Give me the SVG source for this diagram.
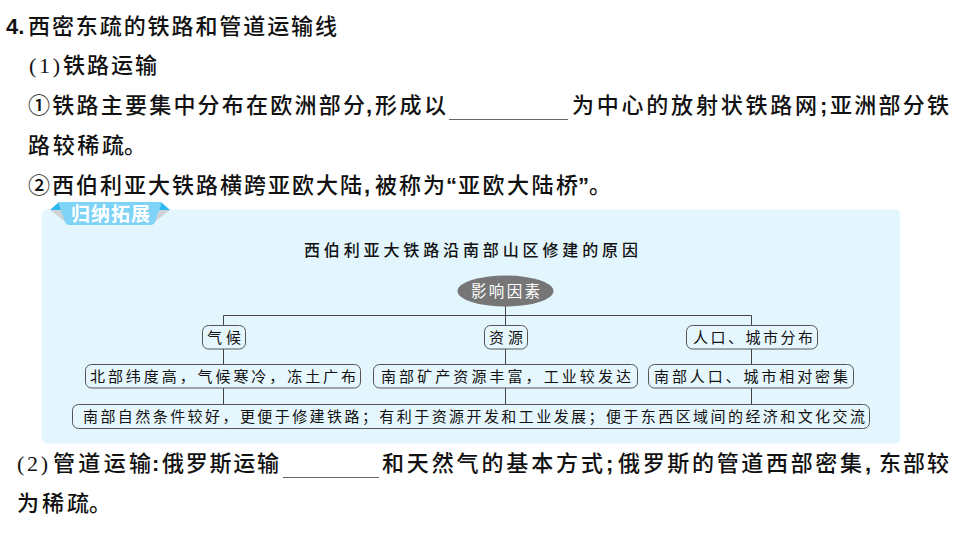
<svg xmlns="http://www.w3.org/2000/svg" width="960" height="540" viewBox="0 0 960 540">
<style>
text{font-family:"Noto Sans CJK SC","Noto Sans",sans-serif;fill:#111}
.b{font-size:22px;font-weight:500}
.p{font-family:"Liberation Sans",sans-serif;font-weight:700}
.r{font-family:"Liberation Serif",serif;font-weight:400}
.n{font-size:15px}
.box{fill:#e6f6fd;stroke:#555;stroke-width:1}
.c{fill:none;stroke:#444;stroke-width:1}
.u{stroke:#666;stroke-width:1}
</style>
<rect width="960" height="540" fill="#fff"/>
<g id="text-top">
<text class="b p" x="6" y="34">4.</text>
<text class="b" x="28" y="34" textLength="309" lengthAdjust="spacing">西密东疏的铁路和管道运输线</text>
<text class="b r" x="29" y="73" textLength="31" lengthAdjust="spacing">(1)</text>
<text class="b" x="63" y="73" textLength="94" lengthAdjust="spacing">铁路运输</text>
<text class="b" x="28" y="113" textLength="337" lengthAdjust="spacing">①铁路主要集中分布在欧洲部分</text>
<text class="b p" x="366" y="113">,</text>
<text class="b" x="375" y="113" textLength="71" lengthAdjust="spacing">形成以</text>
<line class="u" x1="449" y1="119.500" x2="568" y2="119.500"/>
<text class="b" x="572" y="113" textLength="245" lengthAdjust="spacing">为中心的放射状铁路网</text>
<text class="b p" x="820" y="113">;</text>
<text class="b" x="830" y="113" textLength="119" lengthAdjust="spacing">亚洲部分铁</text>
<text class="b" x="28" y="153" textLength="96" lengthAdjust="spacing">路较稀疏</text>
<text class="b" x="124" y="153">。</text>
<text class="b" x="28" y="193" textLength="334" lengthAdjust="spacing">②西伯利亚大铁路横跨亚欧大陆</text>
<text class="b p" x="364" y="193">,</text>
<text class="b" x="375" y="193" textLength="70" lengthAdjust="spacing">被称为</text>
<text class="b p" x="446" y="193">“</text>
<text class="b" x="458" y="193" textLength="120" lengthAdjust="spacing">亚欧大陆桥</text>
<text class="b p" x="578" y="193">”</text>
<text class="b" x="589" y="193">。</text>
</g>
<g id="panel">
<rect x="42" y="209.500" width="858" height="234" rx="5" fill="#e3f6fe" stroke="#eefaff"/>
<polygon points="50,210 62,210 68,224" fill="#cfd3d6"/>
<polygon points="170,210 158,210 152,224" fill="#cfd3d6"/>
<polygon points="50,210 59,202 64,210" fill="#2fb6ee"/>
<polygon points="170,210 161,202 156,210" fill="#2fb6ee"/>
<path d="M58,202H162L155,222Q154,225 150,225H70Q66,225 65,222Z" fill="#7fd3f6"/>
<text x="71" y="221" font-size="19" font-weight="700" style="fill:#fff" textLength="79" lengthAdjust="spacing">归纳拓展</text>
<text x="304" y="256" font-size="16" font-weight="500" textLength="334" lengthAdjust="spacing">西伯利亚大铁路沿南部山区修建的原因</text>
</g>
<g id="connectors">
<path class="c" d="M505.500,306V325M223.500,325V315.500H751.500V325M223.500,349V364M505.500,349V364M751.500,349V364M223.500,388V404M505.500,388V404M751.500,388V404"/>
</g>
<g id="node-factor"><ellipse cx="505.500" cy="291" rx="48" ry="15.500" fill="#767676"/><text x="471" y="297" font-size="15.500" style="fill:#fff" textLength="69" lengthAdjust="spacing">影响因素</text></g>
<g id="node-climate"><rect class="box" x="202.500" y="325.500" width="43" height="23.500" rx="6"/><text class="n" x="207" y="343" textLength="34" lengthAdjust="spacing">气候</text></g>
<g id="node-resource"><rect class="box" x="484.500" y="325.500" width="43" height="23.500" rx="6"/><text class="n" x="489" y="343" textLength="34" lengthAdjust="spacing">资源</text></g>
<g id="node-population"><rect class="box" x="686.500" y="325.500" width="131" height="23.500" rx="6"/><text class="n" x="693" y="343" textLength="120" lengthAdjust="spacing">人口、城市分布</text></g>
<g id="node-north"><rect class="box" x="85.500" y="364.500" width="275" height="23.500" rx="6"/><text class="n" x="90" y="382" textLength="266" lengthAdjust="spacing">北部纬度高，气候寒冷，冻土广布</text></g>
<g id="node-mineral"><rect class="box" x="373.500" y="364.500" width="264" height="23.500" rx="6"/><text class="n" x="381" y="382" textLength="250" lengthAdjust="spacing">南部矿产资源丰富，工业较发达</text></g>
<g id="node-south"><rect class="box" x="648.500" y="364.500" width="205" height="23.500" rx="6"/><text class="n" x="654" y="382" textLength="194" lengthAdjust="spacing">南部人口、城市相对密集</text></g>
<g id="node-summary"><rect class="box" x="72.500" y="404.500" width="797" height="24" rx="6"/><text class="n" x="83" y="422" textLength="782" lengthAdjust="spacing">南部自然条件较好，更便于修建铁路；有利于资源开发和工业发展；便于东西区域间的经济和文化交流</text></g>
<g id="text-bottom">
<text class="b r" x="17" y="471" textLength="31" lengthAdjust="spacing">(2)</text>
<text class="b" x="53" y="471" textLength="98" lengthAdjust="spacing">管道运输</text>
<text class="b p" x="152" y="471">:</text>
<text class="b" x="162" y="471" textLength="117" lengthAdjust="spacing">俄罗斯运输</text>
<line class="u" x1="283" y1="477.500" x2="379" y2="477.500"/>
<text class="b" x="382" y="471" textLength="221" lengthAdjust="spacing">和天然气的基本方式</text>
<text class="b p" x="606" y="471">;</text>
<text class="b" x="618" y="471" textLength="244" lengthAdjust="spacing">俄罗斯的管道西部密集</text>
<text class="b p" x="865" y="471">,</text>
<text class="b" x="879" y="471" textLength="70" lengthAdjust="spacing">东部较</text>
<text class="b" x="17" y="511" textLength="72" lengthAdjust="spacing">为稀疏</text>
<text class="b" x="89" y="511">。</text>
</g>
</svg>
